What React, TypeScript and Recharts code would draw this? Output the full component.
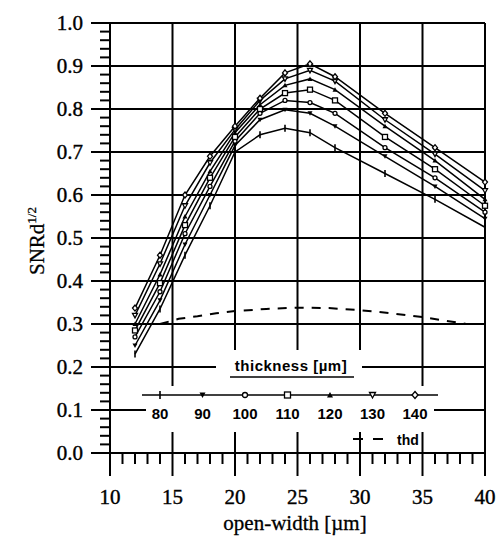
import { LineChart, Line, XAxis, YAxis, CartesianGrid } from 'recharts';

// open-width [µm] where each thickness curve was sampled
const openWidth = [12, 14, 16, 18, 20, 22, 24, 26, 28, 32, 36, 40];

// SNR values per thickness [µm]
const snr80 = [0.23, 0.335, 0.46, 0.575, 0.7, 0.74, 0.755, 0.745, 0.71, 0.65, 0.59, 0.525];
const snr90 = [0.25, 0.355, 0.485, 0.6, 0.715, 0.775, 0.798, 0.79, 0.76, 0.69, 0.62, 0.545];
const snr100 = [0.27, 0.375, 0.51, 0.62, 0.725, 0.79, 0.82, 0.815, 0.79, 0.71, 0.64, 0.56];
const snr110 = [0.285, 0.395, 0.53, 0.64, 0.735, 0.8, 0.837, 0.845, 0.82, 0.735, 0.66, 0.575];
const snr120 = [0.3, 0.415, 0.55, 0.655, 0.745, 0.81, 0.855, 0.87, 0.845, 0.76, 0.68, 0.59];
const snr130 = [0.32, 0.44, 0.575, 0.675, 0.752, 0.82, 0.87, 0.89, 0.865, 0.775, 0.695, 0.61];
const snr140 = [0.337, 0.46, 0.6, 0.69, 0.76, 0.825, 0.884, 0.905, 0.875, 0.79, 0.71, 0.63];

// dashed "thd" curve
const thdWidth = [14, 15.5, 17, 18.5, 20, 22.5, 25, 27.5, 30, 32.5, 35, 38.5];
const thdValues = [0.3, 0.312, 0.318, 0.325, 0.33, 0.335, 0.338, 0.337, 0.332, 0.325, 0.316, 0.3];

const thicknessLabels = ['80', '90', '100', '110', '120', '130', '140'];
const markerShapes = ['tick', 'triDownFill', 'circle', 'square', 'triUpFill', 'triDownOpen', 'diamond'];

const xMajorTicks = [10, 15, 20, 25, 30, 35, 40];
const yMajorTicks = [0, 0.1, 0.2, 0.3, 0.4, 0.5, 0.6, 0.7, 0.8, 0.9, 1.0];

const xMinorTicks: number[] = [];
for (let i = 10; i <= 40; i++) xMinorTicks.push(i);
const yMinorTicks: number[] = [];
for (let i = 0; i <= 50; i++) yMinorTicks.push(i / 50);

const allSnr = [snr80, snr90, snr100, snr110, snr120, snr130, snr140];
const seriesData = allSnr.map((vals) => openWidth.map((x, i) => ({ x, y: vals[i] })));
const thdData = thdWidth.map((x, i) => ({ x, y: thdValues[i] }));

const serif = '"Liberation Serif", "Times New Roman", serif';
const sans = '"Liberation Sans", Arial, sans-serif';

function Marker({ shape, x, y, s = 3 }: { shape: string; x: number; y: number; s?: number }) {
	switch (shape) {
		case 'tick':
			return <line x1={x} y1={y - s - 1} x2={x} y2={y + s + 1} stroke="#000" strokeWidth={1.6} />;
		case 'triDownFill':
			return <path d={`M${x - s},${y - s + 0.5} L${x + s},${y - s + 0.5} L${x},${y + s} Z`} fill="#000" />;
		case 'circle':
			return <circle cx={x} cy={y} r={s - 0.5} fill="#fff" stroke="#000" strokeWidth={1.3} />;
		case 'square':
			return <rect x={x - s} y={y - s} width={2 * s} height={2 * s} fill="#fff" stroke="#000" strokeWidth={1.3} />;
		case 'triUpFill':
			return <path d={`M${x - s},${y + s - 0.5} L${x + s},${y + s - 0.5} L${x},${y - s} Z`} fill="#000" />;
		case 'triDownOpen':
			return <path d={`M${x - s},${y - s + 0.5} L${x + s},${y - s + 0.5} L${x},${y + s} Z`} fill="#fff" stroke="#000" strokeWidth={1.3} />;
		default:
			return <path d={`M${x},${y - s - 0.5} L${x + s},${y} L${x},${y + s + 0.5} L${x - s},${y} Z`} fill="#fff" stroke="#000" strokeWidth={1.3} />;
	}
}

function XTick(props: any) {
	const { x, y, payload } = props;
	const v = payload.value;
	const major = v % 5 === 0;
	return (
		<g>
			<line x1={x} y1={y} x2={x} y2={y + (major ? 23 : 11)} stroke="#000" strokeWidth={2} />
			{major && (
				<text x={x} y={y + 51} textAnchor="middle" fontFamily={serif} fontSize={21} fill="#000" stroke="#000" strokeWidth={0.4}>
					{v}
				</text>
			)}
		</g>
	);
}

function YTick(props: any) {
	const { x, y, payload } = props;
	const v = payload.value;
	const major = Math.abs(v * 10 - Math.round(v * 10)) < 1e-6;
	return (
		<g>
			<line x1={x} y1={y} x2={x - (major ? 19 : 10)} y2={y} stroke="#000" strokeWidth={2} />
			{major && (
				<text x={x - 27} y={y + 7} textAnchor="end" fontFamily={serif} fontSize={21} fill="#000" stroke="#000" strokeWidth={0.4}>
					{v.toFixed(1)}
				</text>
			)}
		</g>
	);
}

function LegendOverlay() {
	const xs = thicknessLabels.map((_, i) => 160 + i * 42.5);
	return (
		<svg width={498} height={538} style={{ position: 'absolute', left: 0, top: 0, pointerEvents: 'none' }}>
			<rect x={216} y={350} width={146} height={37} fill="#fff" />
			<rect x={146} y={386} width={288} height={46} fill="#fff" />
			<text x={291} y={371} textAnchor="middle" fontFamily={sans} fontSize={15} fontWeight="bold" letterSpacing={0.5} fill="#000">
				thickness [µm]
			</text>
			<line x1={230} y1={377} x2={354} y2={377} stroke="#000" strokeWidth={1.5} />
			<line x1={142} y1={395} x2={438} y2={395} stroke="#000" strokeWidth={1.6} />
			{xs.map((x, i) => (
				<g key={thicknessLabels[i]}>
					<Marker shape={markerShapes[i]} x={x} y={395} />
					<text x={x} y={419} textAnchor="middle" fontFamily={sans} fontSize={15} fontWeight="bold" fill="#000">
						{thicknessLabels[i]}
					</text>
				</g>
			))}
			<line x1={353} y1={439} x2={383} y2={439} stroke="#000" strokeWidth={1.8} strokeDasharray="10 10" />
			<text x={397} y={445} fontFamily={sans} fontSize={14} fontWeight="bold" fill="#000">
				thd
			</text>
		</svg>
	);
}

export default function App() {
	return (
		<div style={{ position: 'absolute', left: 0, top: 0, width: 498, height: 538, background: '#fff' }}>
			<LineChart width={498} height={538} margin={{ top: 23, right: 13, bottom: 0, left: 0 }}>
				<CartesianGrid
					stroke="#000"
					strokeWidth={2}
					horizontalValues={yMajorTicks}
					verticalValues={xMajorTicks}
				/>
				<XAxis
					type="number"
					dataKey="x"
					domain={[10, 40]}
					ticks={xMinorTicks}
					interval={0}
					tick={XTick}
					tickLine={false}
					tickSize={0}
					tickMargin={0}
					height={85}
					axisLine={{ stroke: '#000', strokeWidth: 2 }}
					label={() => (
						<text x={295} y={530} textAnchor="middle" fontFamily={serif} fontSize={21} fill="#000" stroke="#000" strokeWidth={0.3}>
							open-width [µm]
						</text>
					)}
				/>
				<YAxis
					type="number"
					domain={[0, 1]}
					ticks={yMinorTicks}
					interval={0}
					tick={YTick}
					tickLine={false}
					tickSize={0}
					tickMargin={0}
					width={110}
					axisLine={{ stroke: '#000', strokeWidth: 2 }}
					label={() => (
						<text transform="translate(44,241) rotate(-90)" textAnchor="middle" fontFamily={serif} fontSize={21} fill="#000" stroke="#000" strokeWidth={0.3}>
							SNRd
							<tspan dy={-8} fontSize={13}>
								1/2
							</tspan>
						</text>
					)}
				/>
				{seriesData.map((d, i) => (
					<Line
						key={thicknessLabels[i]}
						data={d}
						dataKey="y"
						type="linear"
						stroke="#000"
						strokeWidth={1.5}
						isAnimationActive={false}
						dot={(p: any) => (
							<g key={`${thicknessLabels[i]}-${p.index}`}>
								<Marker shape={markerShapes[i]} x={p.cx} y={p.cy} s={2.5} />
							</g>
						)}
					/>
				))}
				<Line
					data={thdData}
					dataKey="y"
					type="linear"
					stroke="#000"
					strokeWidth={2}
					strokeDasharray="9 8"
					dot={false}
					isAnimationActive={false}
				/>
			</LineChart>
			<LegendOverlay />
		</div>
	);
}
